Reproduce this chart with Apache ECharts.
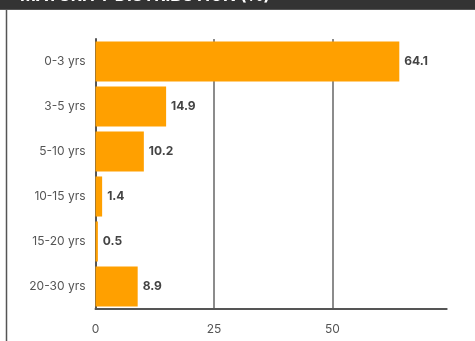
<!DOCTYPE html>
<html>
<head>
<meta charset="utf-8">
<script src="https://cdn.jsdelivr.net/npm/echarts@6/dist/echarts.min.js"></script>
<style>
html,body{margin:0;padding:0;background:#fff;}
#chart{width:475px;height:341px;}
</style>
</head>
<body>
<div id="chart"></div>
<script>
const titleText = 'MATURITY DISTRIBUTION (%)';
const categories = ['0-3 yrs', '3-5 yrs', '5-10 yrs', '10-15 yrs', '15-20 yrs', '20-30 yrs'];
const values = [64.1, 14.9, 10.2, 1.4, 0.5, 8.9];
const xTicks = [0, 25, 50];

const chart = echarts.init(document.getElementById('chart'), null, {renderer: 'canvas'});
chart.setOption({
  animation: false,
  backgroundColor: '#ffffff',
  textStyle: {fontFamily: 'Inter'},
  grid: {left: 95.5, right: 28.3, top: 39, bottom: 32, containLabel: false},
  xAxis: {
    type: 'value',
    min: 0,
    max: 74.1,
    interval: 25,
    axisLine: {show: true, lineStyle: {color: '#555', width: 2}},
    axisTick: {show: false},
    axisLabel: {
      color: '#555', fontSize: 12, fontFamily: 'Inter', margin: 14, showMaxLabel: false,
      formatter: v => xTicks.includes(v) ? String(v) : ''
    },
    splitLine: {show: true, showMinLine: false, showMaxLine: false, lineStyle: {color: '#666', width: 1.5}}
  },
  yAxis: {
    type: 'category',
    data: categories,
    inverse: true,
    axisLine: {show: true, lineStyle: {color: '#555', width: 2}},
    axisTick: {show: false},
    axisLabel: {color: '#555', fontSize: 12, fontFamily: 'Inter', margin: 10},
    splitLine: {show: false}
  },
  series: [{
    type: 'bar',
    data: values,
    barCategoryGap: '11%',
    itemStyle: {color: '#FFA000'},
    label: {
      show: true, position: 'right', distance: 5,
      color: '#444', fontWeight: 'bold', fontSize: 12, fontFamily: 'Inter',
      formatter: p => p.value.toFixed(1)
    }
  }],
  graphic: [
    {type: 'rect', left: 0, top: 0, shape: {x: 0, y: 0, width: 475, height: 10}, style: {fill: '#333'}, z: 100},
    {type: 'line', shape: {x1: 0, y1: 9.5, x2: 475, y2: 9.5}, style: {stroke: '#555', lineWidth: 1}, z: 101},
    {type: 'text', x: 20, y: -4, style: {text: titleText, fill: '#fff', font: 'bold 17px Inter', textVerticalAlign: 'middle'}, z: 102},
    {type: 'line', shape: {x1: 6.5, y1: 10, x2: 6.5, y2: 341}, style: {stroke: '#555', lineWidth: 1.5}, z: 100}
  ]
});
</script>
</body>
</html>
